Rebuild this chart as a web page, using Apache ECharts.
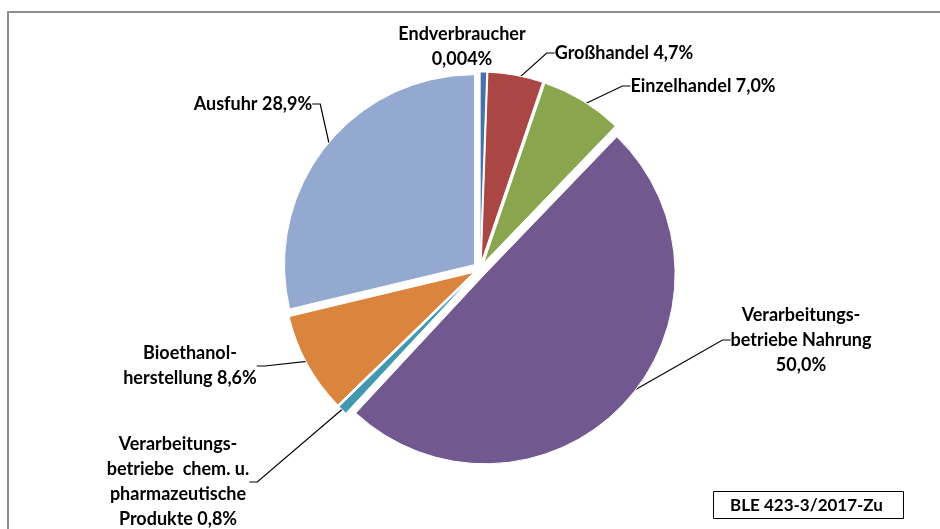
<!DOCTYPE html>
<html>
<head>
<meta charset="utf-8">
<title>Verwendung</title>
<script src="https://cdn.jsdelivr.net/npm/echarts@6/dist/echarts.min.js"></script>
<style>
  html, body { margin: 0; padding: 0; background: #fff; }
  #chart { width: 940px; height: 529px; }
</style>
</head>
<body>
<div id="chart"></div>
<script>
// Anteile in Prozent, im Uhrzeigersinn ab 12 Uhr
const categories = [
  'Endverbraucher',
  'Großhandel',
  'Einzelhandel',
  'Verarbeitungs-\nbetriebe Nahrung',
  'Verarbeitungs-\nbetriebe  chem. u.\npharmazeutische\nProdukte ',
  'Bioethanol-\nherstellung ',
  'Ausfuhr'
]
const shares = [0.004, 4.7, 7.0, 50.0, 0.8, 8.6, 28.9]
const colors = ['#4572a7', '#aa4643', '#89a54e', '#71588f', '#4198af', '#db843d', '#93a9cf']
const sourceNote = 'BLE 423-3/2017-Zu'

// Label-Mittelpunkte (Layout, keine Daten)
const labelPos = [
  [462, 47], [624, 53], [703, 86], [801, 340], [178, 482], [190, 366], [253, 104]
]

const CENTER = [480, 269]
const RADIUS = 190

const fmt = (v) => (v < 0.1 ? v.toFixed(3) : v.toFixed(1)).replace('.', ',') + '%'

const chart = echarts.init(document.getElementById('chart'))

const basePie = {
  type: 'pie',
  center: CENTER,
  radius: RADIUS,
  startAngle: 90,
  clockwise: true,
  minAngle: 2,
  avoidLabelOverlap: false,
  emphasis: { disabled: true }
}

const option = {
  animation: false,
  color: colors,
  title: {
    text: sourceNote,
    left: 713,
    top: 491,
    padding: [6, 21, 5, 17],
    borderColor: '#000',
    borderWidth: 1,
    textStyle: { fontFamily: 'Lato', fontWeight: 'bold', fontSize: 17, color: '#000' }
  },
  graphic: [
    {
      type: 'polyline',
      silent: true,
      shape: { points: [[8, 529], [8, 12], [940, 12]] },
      style: { stroke: '#8f8f8f', lineWidth: 2, fill: null }
    }
  ],
  series: [
    // alle Segmente herausgezogen (Explosion)
    Object.assign({}, basePie, {
      name: 'Segmente',
      selectedMode: 'multiple',
      selectedOffset: 7,
      itemStyle: { borderColor: '#fff', borderWidth: 1 },
      label: { show: false },
      labelLine: { show: false },
      data: shares.map((v, i) => ({ value: v, name: categories[i], selected: true }))
    }),
    // unsichtbare Kopie nur fuer Beschriftungen
    Object.assign({}, basePie, {
      name: 'Beschriftung',
      silent: true,
      itemStyle: { color: 'rgba(0,0,0,0)', borderWidth: 0 },
      label: {
        show: true,
        position: 'outside',
        fontFamily: 'Lato',
        fontWeight: 'bold',
        fontSize: 18,
        lineHeight: 25,
        color: '#000',
        align: 'center',
        formatter: (p) => {
          const name = categories[p.dataIndex]
          if (p.dataIndex === 0 || p.dataIndex === 3) return name + '\n' + fmt(p.value)
          return name + (name.endsWith(' ') ? '' : ' ') + fmt(p.value)
        }
      },
      labelLine: {
        show: true,
        length: 10,
        length2: 8,
        lineStyle: { color: '#000', width: 1.2 }
      },
      labelLayout: (params) => {
        const pos = labelPos[params.dataIndex]
        return { x: pos[0], y: pos[1], align: 'center', verticalAlign: 'middle' }
      },
      data: shares.map((v, i) => ({
        value: v,
        name: categories[i],
        labelLine: i === 0 ? { show: false } : undefined
      }))
    })
  ]
}

chart.setOption(option)
window.addEventListener('resize', () => chart.resize())
</script>
</body>
</html>
